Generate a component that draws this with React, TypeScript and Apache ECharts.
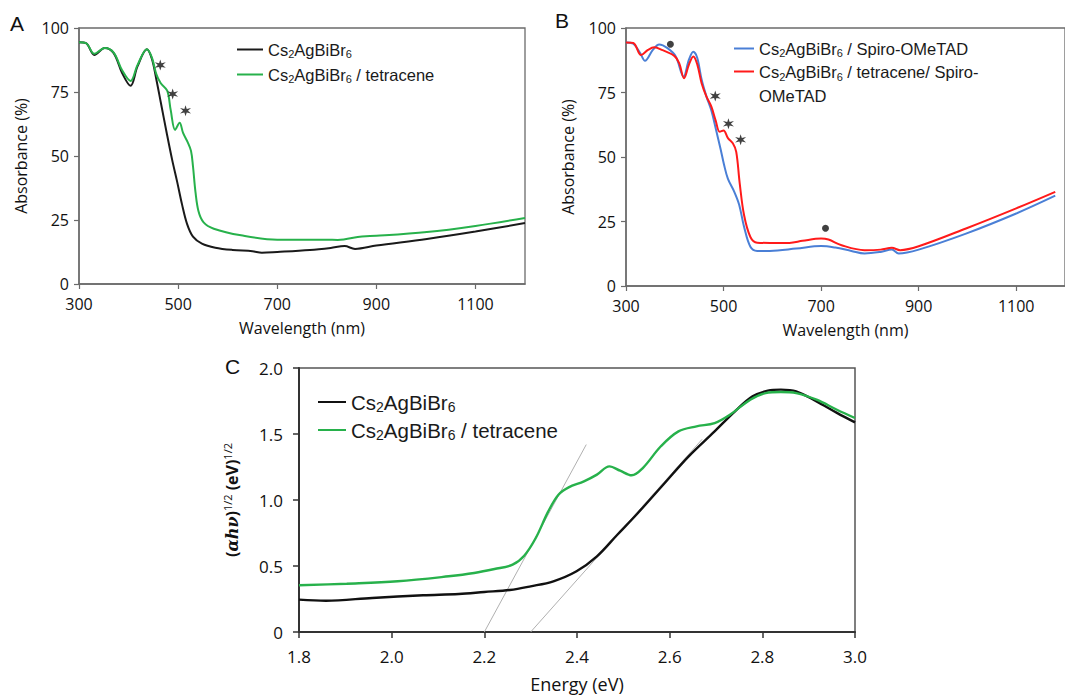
import React, { useEffect, useRef } from 'react';
import * as echarts from 'echarts';

// Panel A: Cs2AgBiBr6 (black) and Cs2AgBiBr6 / tetracene (green) — [wavelength nm, absorbance %]
const A_bare: number[][] = [
  [300, 94.4], [314, 94.1], [331, 89.5], [352, 92.2], [370, 90.2], [387, 82.4], [404, 77.4], [418, 85],
  [437, 91.7], [447, 88], [456, 80], [465, 71], [477, 59], [488, 48.5], [498, 40], [508, 31], [518, 23.5],
  [530, 18.5], [548, 15.8], [575, 14.2], [610, 13.3], [650, 12.8], [669, 12.2], [700, 12.5], [766, 13.3],
  [808, 14.1], [836, 14.8], [857, 13.7], [900, 15], [1002, 17.6], [1100, 20.5], [1200, 23.8],
];
const A_tet: number[][] = [
  [300, 94.4], [314, 94.1], [331, 89.9], [352, 92.2], [370, 90.4], [387, 83.5], [404, 79.3], [418, 85.5],
  [437, 91.7], [447, 88.5], [456, 82], [465, 78.4], [478, 75.5], [485, 68], [494, 60.2], [503, 63],
  [510, 59], [519, 55.5], [526, 52], [530, 46], [535, 36], [541, 28.5], [551, 24.2], [572, 21.6],
  [627, 19], [700, 17.3], [800, 17.3], [822, 17.2], [871, 18.6], [900, 18.8], [1002, 20.3], [1100, 22.7],
  [1200, 25.8],
];
const A_stars: number[][] = [[464, 85.5], [489, 74.2], [515, 67.7]];

// Panel B: Spiro-OMeTAD (blue) and tetracene/Spiro-OMeTAD (red)
const B_spiro: number[][] = [
  [300, 94.4], [315, 93.9], [329, 90.3], [339, 87.3], [355, 91.5], [368, 93.6], [385, 92.2], [402, 89],
  [418, 81.1], [429, 87.7], [438, 90.8], [446, 88.5], [455, 80], [465, 73.4], [475, 68], [484, 61],
  [494, 53], [501, 47], [509, 41.5], [522, 36.5], [532, 31.5], [542, 23], [555, 15.2], [569, 13.6],
  [595, 13.6], [649, 14.5], [700, 15.5], [729, 14.9], [762, 13.6], [789, 12.6], [822, 13.2], [845, 14.1],
  [859, 12.6], [900, 14.1], [997, 20.3], [1100, 28.1], [1180, 35],
];
const B_tetSpiro: number[][] = [
  [300, 94.4], [315, 94.2], [331, 89.5], [345, 91.5], [358, 92.5], [375, 91.4], [399, 89.2], [409, 86.4],
  [419, 80.5], [429, 85.8], [438, 89], [446, 86], [455, 78.6], [465, 73.4], [475, 69.5], [484, 64],
  [492, 59.8], [500, 60.3], [509, 57.3], [519, 55.3], [526, 52], [533, 40], [542, 27.5], [555, 19],
  [569, 16.8], [595, 16.7], [635, 16.7], [662, 17.5], [700, 18.4], [715, 18], [742, 15.8], [789, 13.9],
  [822, 14.1], [845, 14.8], [862, 13.9], [900, 15.4], [997, 22.3], [1100, 30.1], [1180, 36.5],
];
const B_stars: number[][] = [[483, 73.6], [510, 62.9], [535, 56.7]];
const B_dots: number[][] = [[391, 93.7], [709, 22.4]];

// Panel C: Tauc plot — [energy eV, (αhν)^1/2]
const C_bare: number[][] = [
  [1.8, 0.245], [1.858, 0.237], [1.958, 0.258], [2.068, 0.278], [2.145, 0.288], [2.2, 0.303], [2.255, 0.318],
  [2.3, 0.346], [2.349, 0.384], [2.399, 0.46], [2.443, 0.573], [2.487, 0.737], [2.531, 0.9], [2.586, 1.116],
  [2.641, 1.331], [2.697, 1.52], [2.741, 1.672], [2.779, 1.785], [2.812, 1.828], [2.84, 1.836], [2.873, 1.823],
  [2.917, 1.747], [2.961, 1.66], [3.0, 1.588],
];
const C_tet: number[][] = [
  [1.8, 0.354], [1.903, 0.366], [2.013, 0.384], [2.123, 0.422], [2.178, 0.447], [2.222, 0.477], [2.261, 0.51],
  [2.286, 0.578], [2.311, 0.712], [2.338, 0.914], [2.36, 1.04], [2.382, 1.096], [2.415, 1.141], [2.443, 1.192],
  [2.47, 1.255], [2.493, 1.222], [2.518, 1.187], [2.542, 1.242], [2.581, 1.407], [2.619, 1.52], [2.658, 1.558],
  [2.697, 1.583], [2.73, 1.646], [2.774, 1.76], [2.807, 1.81], [2.84, 1.818], [2.873, 1.81], [2.917, 1.76],
  [2.961, 1.684], [3.0, 1.621],
];
const C_fit1: number[][] = [[2.2, 0], [2.42, 1.42]];
const C_fit2: number[][] = [[2.3, 0], [2.67, 1.46]];

const A_ticksX = { min: 300, max: 1200, interval: 200 };
const Y_pct = { min: 0, max: 100, interval: 25 };
const C_ticksX = { min: 1.8, max: 3.0, interval: 0.2 };
const C_ticksY = { min: 0, max: 2, interval: 0.5 };

const starSymbol = (() => {
  let d = '';
  for (let i = 0; i < 12; i++) {
    const a = (-90 + i * 30) * Math.PI / 180;
    const r = i % 2 === 0 ? 10 : 3.8;
    d += (i === 0 ? 'M' : 'L') + (10 + r * Math.cos(a)).toFixed(2) + ',' + (10 + r * Math.sin(a)).toFixed(2);
  }
  return 'path://' + d + 'Z';
})();

const FONT = 'Open Sans';
const LEG_FONT = 'Liberation Sans';

const richFor = (fs: number, lh: number) => {
  const sfs = Math.round(fs * 0.66);
  const slh = Math.round(lh * 0.6);
  return {
    t: { fontSize: fs, lineHeight: lh, fontFamily: LEG_FONT, color: '#1a1a1a' },
    s: { fontSize: sfs, lineHeight: slh, padding: [lh - slh, 0, 0, 0], fontFamily: LEG_FONT, color: '#1a1a1a' },
  };
};

const legendText: Record<string, string> = {
  'A: Cs2AgBiBr6': '{t|Cs}{s|2}{t|AgBiBr}{s|6}',
  'A: Cs2AgBiBr6 / tetracene': '{t|Cs}{s|2}{t|AgBiBr}{s|6}{t| / tetracene}',
  'B: Cs2AgBiBr6 / Spiro-OMeTAD': '{t|Cs}{s|2}{t|AgBiBr}{s|6}{t| / Spiro-OMeTAD}',
  'B: Cs2AgBiBr6 / tetracene/ Spiro-OMeTAD': '{t|Cs}{s|2}{t|AgBiBr}{s|6}{t| / tetracene/ Spiro-}\n{t|OMeTAD}',
  'C: Cs2AgBiBr6': '{t|Cs}{s|2}{t|AgBiBr}{s|6}',
  'C: Cs2AgBiBr6 / tetracene': '{t|Cs}{s|2}{t|AgBiBr}{s|6}{t| / tetracene}',
};

const abAxisLine = { onZero: false, lineStyle: { color: '#6b6b6b', width: 1.5 } };

function wlAxis(gridIndex: number) {
  return {
    gridIndex, type: 'value', ...A_ticksX,
    axisLine: abAxisLine,
    axisTick: { length: 5, lineStyle: { color: '#6b6b6b', width: 1.2 } },
    axisLabel: { fontSize: 16, color: '#111', margin: 12, fontFamily: FONT, showMaxLabel: false, formatter: (v: number) => String(v) },
    splitLine: { show: false },
    name: 'Wavelength (nm)', nameLocation: 'middle', nameGap: 36,
    nameTextStyle: { fontSize: 16, color: '#111', fontFamily: FONT },
  };
}
function absAxis(gridIndex: number) {
  return {
    gridIndex, type: 'value', ...Y_pct,
    axisLine: { show: true, ...abAxisLine },
    axisTick: { show: true, length: 5, lineStyle: { color: '#6b6b6b', width: 1.2 } },
    axisLabel: { fontSize: 16, color: '#111', margin: 10, fontFamily: FONT },
    splitLine: { show: false },
    name: 'Absorbance (%)', nameLocation: 'middle', nameGap: 50,
    nameTextStyle: { fontSize: 16, color: '#111', fontFamily: FONT },
  };
}

function line(name: string, data: number[][], color: string, idx: number, width = 2) {
  return {
    name, type: 'line', data, xAxisIndex: idx, yAxisIndex: idx,
    showSymbol: false, symbol: 'none', smooth: 0.35,
    lineStyle: { color, width }, itemStyle: { color }, z: 3,
  };
}

const legendBase = { orient: 'vertical', icon: 'rect', itemHeight: 2, selectedMode: false, formatter: (n: string) => legendText[n] };

export default function App() {
  const ref = useRef<HTMLDivElement>(null);
  useEffect(() => {
    const chart = echarts.init(ref.current!, null, { renderer: 'svg' });
    const option: any = {
      animation: false,
      backgroundColor: '#ffffff',
      textStyle: { fontFamily: FONT },
      grid: [
        { left: 79, top: 28, width: 446, height: 256, show: true, borderColor: '#6b6b6b', borderWidth: 1.3 },
        { left: 626, top: 28, width: 451, height: 258, show: true, borderColor: '#6b6b6b', borderWidth: 1.3 },
        { left: 299, top: 368, width: 556, height: 264, show: true, borderColor: '#555', borderWidth: 1.5 },
      ],
      xAxis: [
        wlAxis(0), wlAxis(1),
        {
          gridIndex: 2, type: 'value', ...C_ticksX,
          axisLine: { onZero: false, lineStyle: { color: '#333', width: 2 } },
          axisTick: { length: 6, lineStyle: { color: '#333', width: 1.5 } },
          axisLabel: { fontSize: 17, color: '#111', margin: 16, fontFamily: FONT, formatter: (v: number) => v.toFixed(1) },
          splitLine: { show: false },
          name: 'Energy (eV)', nameLocation: 'middle', nameGap: 43,
          nameTextStyle: { fontSize: 18, color: '#111', fontFamily: FONT },
        },
      ],
      yAxis: [
        absAxis(0), absAxis(1),
        {
          gridIndex: 2, type: 'value', ...C_ticksY,
          axisLine: { show: true, onZero: false, lineStyle: { color: '#333', width: 2 } },
          axisTick: { show: true, length: 6, lineStyle: { color: '#333', width: 1.5 } },
          axisLabel: { fontSize: 17, color: '#111', margin: 16, fontFamily: FONT, formatter: (v: number) => (v === 0 ? '0' : v.toFixed(1)) },
          splitLine: { show: false },
          name: '{b|(}{i|αhν}{b|)}{p|1/2}{b| (eV)}{p|1/2}', nameLocation: 'middle', nameGap: 57,
          nameTextStyle: {
            rich: {
              b: { fontSize: 16, fontWeight: 'bold', lineHeight: 20, fontFamily: FONT, color: '#111' },
              i: { fontSize: 16, fontWeight: 'bold', fontStyle: 'italic', lineHeight: 20, fontFamily: 'DejaVu Serif', color: '#111' },
              p: { fontSize: 11, lineHeight: 11, padding: [0, 0, 9, 0], fontFamily: FONT, color: '#111' },
            },
          },
        },
      ],
      legend: [
        {
          ...legendBase, left: 232, top: 35, itemGap: 6, itemWidth: 26,
          data: ['A: Cs2AgBiBr6', 'A: Cs2AgBiBr6 / tetracene'],
          textStyle: { rich: richFor(16.5, 21) },
        },
        {
          ...legendBase, left: 729, top: 34, itemWidth: 20,
          data: ['B: Cs2AgBiBr6 / Spiro-OMeTAD'],
          textStyle: { rich: richFor(16.5, 21) },
        },
        {
          ...legendBase, left: 729, top: 56, itemWidth: 20,
          data: ['B: Cs2AgBiBr6 / tetracene/ Spiro-OMeTAD'],
          textStyle: { rich: richFor(16.5, 24), padding: [24, 0, 0, 0] },
        },
        {
          ...legendBase, left: 313, top: 385, itemGap: 4, itemWidth: 28,
          data: ['C: Cs2AgBiBr6', 'C: Cs2AgBiBr6 / tetracene'],
          textStyle: { rich: richFor(20.5, 24) },
        },
      ],
      graphic: [
        { type: 'text', left: 10, top: 13, style: { text: 'A', fontSize: 21, fontFamily: LEG_FONT, fill: '#111' } },
        { type: 'text', left: 555, top: 10, style: { text: 'B', fontSize: 21, fontFamily: LEG_FONT, fill: '#111' } },
        { type: 'text', left: 225, top: 356, style: { text: 'C', fontSize: 21, fontFamily: LEG_FONT, fill: '#111' } },
      ],
      series: [
        line('A: Cs2AgBiBr6', A_bare, '#1a1a1a', 0),
        line('A: Cs2AgBiBr6 / tetracene', A_tet, '#27b14b', 0),
        { type: 'scatter', data: A_stars, xAxisIndex: 0, yAxisIndex: 0, symbol: starSymbol, symbolSize: 11, itemStyle: { color: '#111' }, z: 5 },
        line('B: Cs2AgBiBr6 / Spiro-OMeTAD', B_spiro, '#4a7fd6', 1),
        line('B: Cs2AgBiBr6 / tetracene/ Spiro-OMeTAD', B_tetSpiro, '#ff1a1a', 1),
        { type: 'scatter', data: B_stars, xAxisIndex: 1, yAxisIndex: 1, symbol: starSymbol, symbolSize: 11, itemStyle: { color: '#111' }, z: 5 },
        { type: 'scatter', data: B_dots, xAxisIndex: 1, yAxisIndex: 1, symbol: 'circle', symbolSize: 7, itemStyle: { color: '#111' }, z: 5 },
        { type: 'line', data: C_fit1, xAxisIndex: 2, yAxisIndex: 2, symbol: 'none', lineStyle: { color: '#b0b0b0', width: 1 }, z: 2 },
        { type: 'line', data: C_fit2, xAxisIndex: 2, yAxisIndex: 2, symbol: 'none', lineStyle: { color: '#b0b0b0', width: 1 }, z: 2 },
        line('C: Cs2AgBiBr6', C_bare, '#111111', 2, 2.4),
        line('C: Cs2AgBiBr6 / tetracene', C_tet, '#27b14b', 2, 2.4),
      ],
    };
    chart.setOption(option);
    return () => chart.dispose();
  }, []);
  return <div ref={ref} style={{ position: 'absolute', left: 0, top: 0, width: 1065, height: 695 }} />;
}
